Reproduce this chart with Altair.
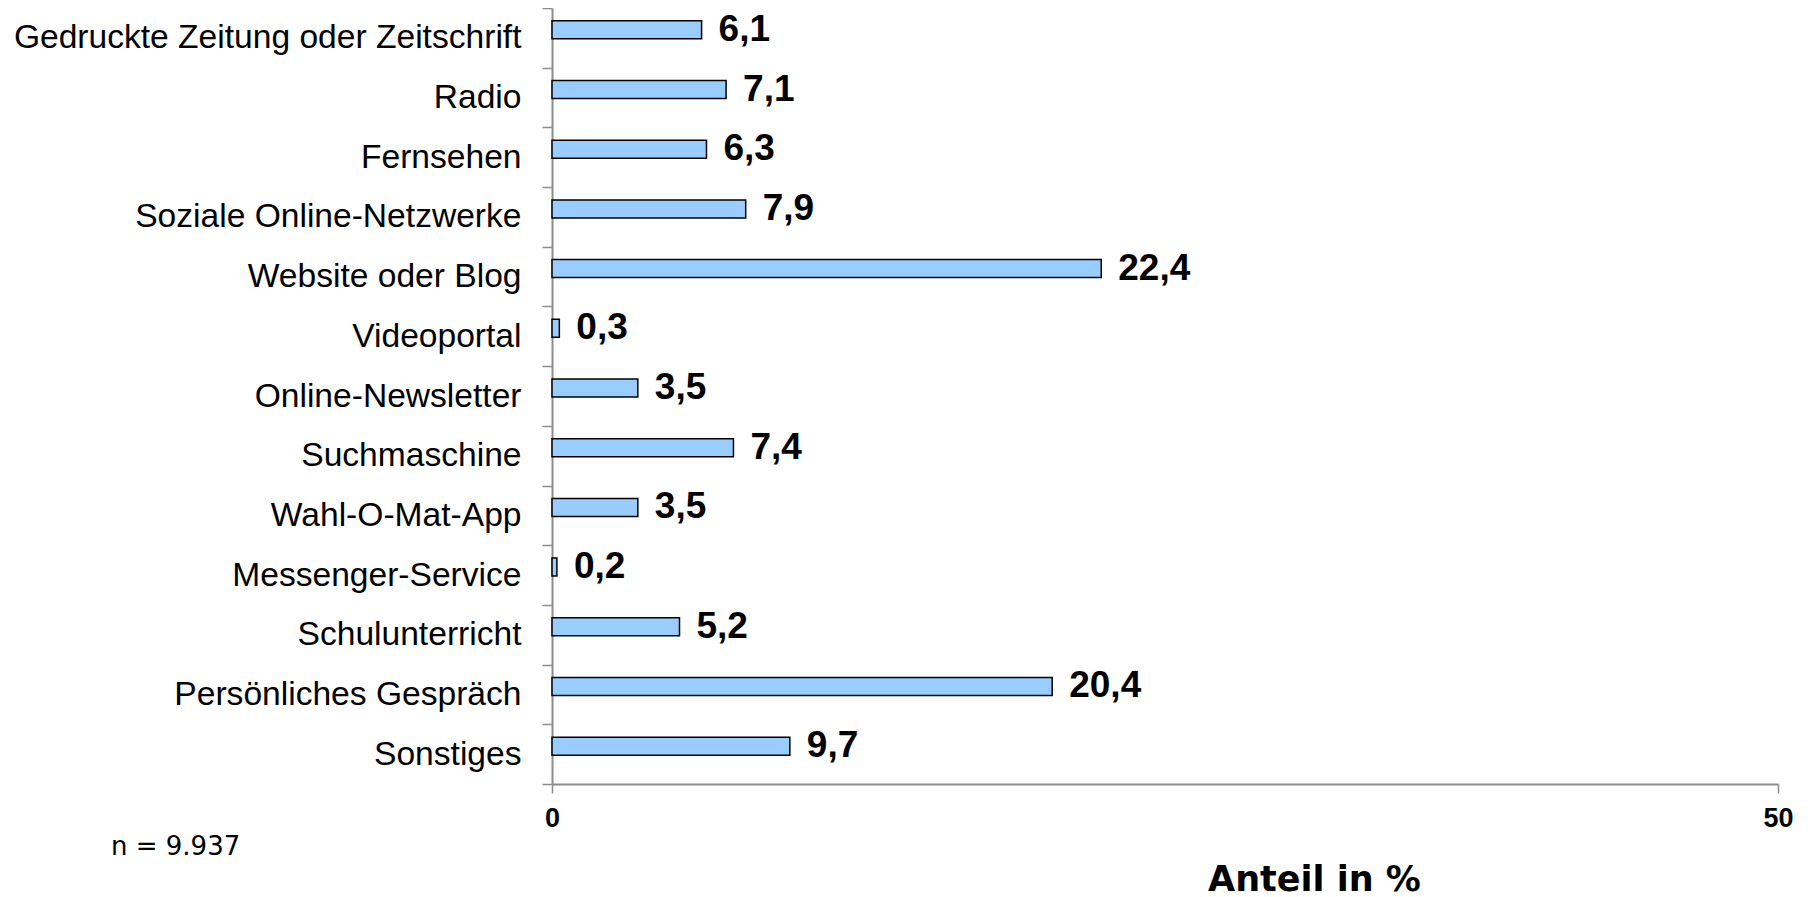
import altair as alt
import pandas as pd

categories = [
    "Gedruckte Zeitung oder Zeitschrift", "Radio", "Fernsehen",
    "Soziale Online-Netzwerke", "Website oder Blog", "Videoportal",
    "Online-Newsletter", "Suchmaschine", "Wahl-O-Mat-App",
    "Messenger-Service", "Schulunterricht", "Persönliches Gespräch", "Sonstiges",
]
values = [6.1, 7.1, 6.3, 7.9, 22.4, 0.3, 3.5, 7.4, 3.5, 0.2, 5.2, 20.4, 9.7]
x_ticks = [0, 50]
n_note = "n = 9.937"
x_title = "Anteil in %"

df = pd.DataFrame({
    "Kategorie": categories,
    "Anteil": values,
    "Label": [f"{v:.1f}".replace(".", ",") for v in values],
})

AX = "#8c8c8c"
FONT = "Liberation Sans"

y_enc = alt.Y(
    "Kategorie:N", sort=categories, title=None,
    scale=alt.Scale(paddingInner=0, paddingOuter=0),
    axis=alt.Axis(
        tickBand="extent", labelFont=FONT, labelFontSize=33.6, labelColor="black",
        labelPadding=21, tickSize=10, tickColor=AX, tickWidth=1.5,
        domainColor=AX, domainWidth=2, grid=False, labelLimit=700,
    ),
)
x_enc = alt.X(
    "Anteil:Q", scale=alt.Scale(domain=[0, 50], nice=False),
    axis=alt.Axis(
        values=x_ticks, title=x_title, labelFont=FONT, labelFontSize=27,
        labelFontWeight="bold", labelColor="black", labelPadding=12,
        tickSize=9, tickColor=AX, tickWidth=1.5, domainColor=AX, domainWidth=2,
        grid=False, titleFont="DejaVu Sans", titleFontSize=35, titleFontWeight="bold",
        titleColor="black", titleX=762, titleY=95, titleAlign="center",
        titleBaseline="middle", labelFlush=False,
    ),
)

bars = alt.Chart(df).mark_bar(
    size=18, fill="#99CCFF", stroke="black", strokeWidth=1.5, yOffset=-8
).encode(x=x_enc, y=y_enc)

labels = alt.Chart(df).mark_text(
    align="left", baseline="middle", dx=17, yOffset=-8,
    font=FONT, fontSize=37, fontWeight="bold", color="black",
).encode(x="Anteil:Q", y=alt.Y("Kategorie:N", sort=categories), text="Label:N")

note = alt.Chart(pd.DataFrame({"t": [n_note]})).mark_text(
    align="left", baseline="middle", font="DejaVu Sans", fontSize=26, color="black",
).encode(x=alt.value(-441), y=alt.value(839), text="t:N")

chart = alt.layer(bars, labels, note).properties(
    width=1226, height=776,
    autosize=alt.AutoSizeParams(type="none"),
    padding={"left": 544, "top": 0, "right": 20, "bottom": 113},
).configure_view(stroke=None)

chart.save("out.html", embed_options={"renderer": "svg", "actions": False})
